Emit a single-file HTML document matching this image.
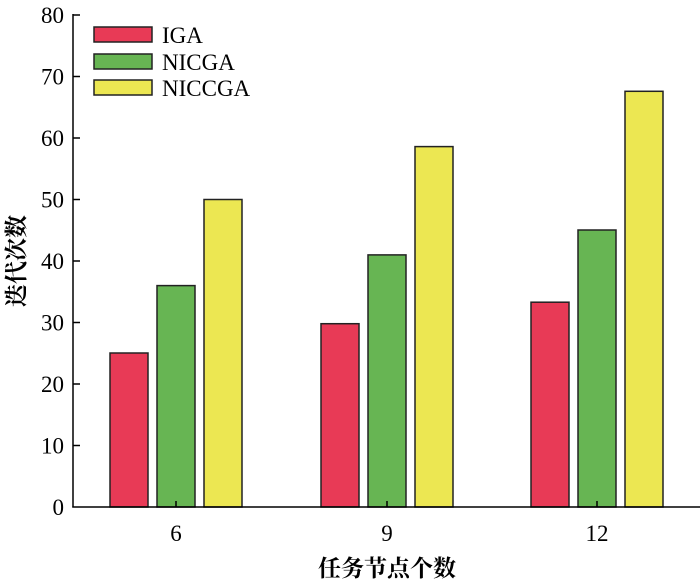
<!DOCTYPE html>
<html><head><meta charset="utf-8"><style>body{margin:0;background:#fff}</style></head><body>
<svg width="700" height="581" xmlns="http://www.w3.org/2000/svg" font-family="Liberation Serif, Noto Serif CJK SC, serif" fill="#000">
<g stroke="#222" stroke-width="1.5">
<rect x="110" y="353" width="38" height="154" fill="#e83a56"/>
<rect x="157" y="285.6" width="38" height="221.4" fill="#67b553"/>
<rect x="204" y="199.5" width="38" height="307.5" fill="#ece752"/>
<rect x="321" y="323.7" width="38" height="183.3" fill="#e83a56"/>
<rect x="368" y="254.9" width="38" height="252.1" fill="#67b553"/>
<rect x="415" y="146.6" width="38" height="360.4" fill="#ece752"/>
<rect x="531" y="302.2" width="38" height="204.8" fill="#e83a56"/>
<rect x="578" y="230" width="38" height="277" fill="#67b553"/>
<rect x="625" y="91.3" width="38" height="415.7" fill="#ece752"/>
<rect x="94" y="27" width="58" height="15" fill="#e83a56"/>
<rect x="94" y="54" width="58" height="15" fill="#67b553"/>
<rect x="94" y="80" width="58" height="15" fill="#ece752"/>
</g>
<g stroke="#000" stroke-width="1.5">
<line x1="73" y1="14" x2="73" y2="507.5"/>
<line x1="72.3" y1="507" x2="700" y2="507"/>
<line x1="73" y1="15" x2="80" y2="15"/><line x1="73" y1="76.5" x2="80" y2="76.5"/>
<line x1="73" y1="138" x2="80" y2="138"/><line x1="73" y1="199.5" x2="80" y2="199.5"/>
<line x1="73" y1="261" x2="80" y2="261"/><line x1="73" y1="322.5" x2="80" y2="322.5"/>
<line x1="73" y1="384" x2="80" y2="384"/><line x1="73" y1="445.5" x2="80" y2="445.5"/>
<line x1="176" y1="507" x2="176" y2="501"/><line x1="387" y1="507" x2="387" y2="501"/><line x1="597" y1="507" x2="597" y2="501"/>
</g>
<g font-size="23" text-anchor="end">
<text x="64" y="23">80</text><text x="64" y="84.5">70</text><text x="64" y="146">60</text>
<text x="64" y="207.5">50</text><text x="64" y="269">40</text><text x="64" y="330.5">30</text>
<text x="64" y="392">20</text><text x="64" y="453.5">10</text><text x="64" y="515">0</text>
</g>
<g font-size="23" text-anchor="middle">
<text x="176" y="541">6</text><text x="387" y="541">9</text><text x="597" y="541">12</text>
<text x="387" y="576" font-size="23" font-weight="bold">任务节点个数</text>
</g>
<text transform="translate(24,261) rotate(-90)" font-size="23" font-weight="bold" text-anchor="middle">迭代次数</text>
<g font-size="23"><text x="162" y="43">IGA</text><text x="162" y="70">NICGA</text><text x="162" y="96">NICCGA</text></g>
</svg>
</body></html>
